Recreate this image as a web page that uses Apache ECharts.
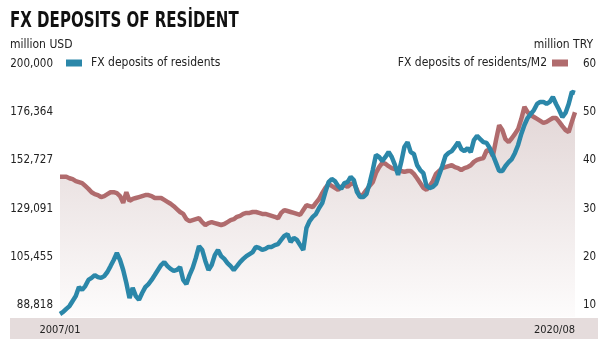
<!DOCTYPE html>
<html>
<head>
<meta charset="utf-8">
<script src="https://cdn.jsdelivr.net/npm/echarts@6/dist/echarts.min.js"></script>
<style>html,body{margin:0;padding:0;background:#fff}#chart{width:608px;height:349px}</style>
</head>
<body>
<div id="chart"></div>
<script>
// ---- data ----
const titleText = 'FX DEPOSITS OF RESİDENT';
const leftUnit = 'million USD';
const rightUnit = 'million TRY';
const depositsName = 'FX deposits of residents';
const ratioName = 'FX deposits of residents/M2';
const startYear = 2007, startMonth = 1, endYear = 2020, endMonth = 8;
const leftTickValues = [81818, 105455, 129091, 152727, 176364, 200000];
const leftTickLabels = ['88,818', '105,455', '129,091', '152,727', '176,364', '200,000'];
const rightTickValues = [10, 20, 30, 40, 50, 60];
const rightTickLabels = ['10', '20', '30', '40', '50', '60'];
// FX deposits of residents (million USD), monthly 2007/01 - 2020/08
const depositValues = [
 77400,78400,79900,81300,83800,86200,90600,89200,91100,94100,
 95100,96500,95500,95100,96000,98000,100900,103900,107300,103900,
 99000,92600,85200,90200,86200,84300,87700,90600,92100,94100,
 96500,99000,101400,102900,100900,99500,98500,99000,100400,94100,
 92100,96500,100000,104900,110700,108800,103400,99000,101400,106300,
 108800,105800,104400,102400,100900,99000,100900,102900,104400,105800,
 106800,107800,110300,109800,108800,109300,110300,110300,111200,111700,
 113700,115700,116600,112700,114700,113700,111200,108800,119600,123000,
 125000,126400,129400,131800,137200,142100,143600,142600,140200,138700,
 141600,142100,144600,143100,137200,134800,134800,136200,141600,148000,
 155400,154400,152400,154400,156800,154400,150500,145600,151900,159300,
 161700,156800,155900,150500,148000,146500,140200,139200,139700,141200,
 145600,150000,154900,156400,157300,159300,161700,158300,157300,158800,
 156800,162700,164700,163200,161700,161300,158800,155400,151500,147500,
 147500,150000,151900,153400,156400,160300,165700,170100,173500,175500,
 177400,180400,181400,181400,180400,181400,183800,180400,177400,174000,
 176000,180400,186300,185800
];
// FX deposits of residents / M2, monthly 2007/01 - 2020/08
const ratioValues = [
 36.6,36.6,36.6,36.3,36.1,35.7,35.5,35.3,34.7,34.1,
 33.4,33.0,32.8,32.4,32.6,33.0,33.4,33.4,33.2,32.6,
 31.2,33.4,31.6,32.0,32.2,32.4,32.6,32.8,32.8,32.6,
 32.2,32.2,32.2,31.8,31.4,31.0,30.5,29.9,29.3,28.9,
 27.8,27.4,27.6,27.8,28.0,27.2,26.6,27.0,27.2,27.0,
 26.8,26.6,26.8,27.2,27.6,27.8,28.3,28.5,28.9,29.1,
 29.1,29.3,29.3,29.1,28.9,28.9,28.7,28.5,28.3,28.0,
 29.1,29.7,29.5,29.3,29.1,28.9,28.7,29.7,30.7,30.5,
 30.3,31.2,32.0,33.2,34.3,35.1,34.7,34.3,33.9,34.5,
 34.9,34.5,35.1,35.3,33.9,32.4,33.0,33.9,34.7,35.5,
 37.4,38.6,39.5,39.3,38.8,38.4,38.2,38.0,37.8,37.6,
 37.8,37.8,37.2,36.3,35.3,34.3,33.9,34.7,35.7,37.2,
 37.8,38.4,38.6,38.8,39.0,38.6,38.4,38.0,38.4,38.6,
 39.0,39.7,40.1,40.3,40.5,42.0,42.2,40.9,44.2,47.3,
 46.3,44.4,43.8,44.6,45.5,46.5,48.6,51.1,50.0,49.4,
 49.0,48.6,48.2,47.8,48.0,48.4,48.8,48.8,48.0,47.1,
 46.3,45.9,48.0,50.0
];

// ---- build categories ----
const months = [];
for (let y = startYear, m = startMonth; y < endYear || (y === endYear && m <= endMonth); ) {
  months.push(y + '/' + (m < 10 ? '0' + m : '' + m));
  m++; if (m > 12) { m = 1; y++; }
}
const lastIdx = months.length - 1;

// ---- layout ----
const FONT = "'Liberation Sans Narrow', 'DejaVu Sans Condensed', sans-serif";
const TXT = '#222';
const BLUE = '#2b87a9';
const RED = '#b06b6d';
const gridTop = 64, gridBottomPx = 317, lowTickPx = 305;
const span = (lowTickPx - gridTop);
const extra = gridBottomPx - lowTickPx;
const lMax = leftTickValues[leftTickValues.length - 1], lMin0 = leftTickValues[0];
const rMax = rightTickValues[rightTickValues.length - 1], rMin0 = rightTickValues[0];
const lMin = lMin0 - extra * (lMax - lMin0) / span;
const rMin = rMin0 - extra * (rMax - rMin0) / span;

function labelFor(vals, labels) {
  return function (v) {
    let best = 0, bd = Infinity;
    vals.forEach((t, i) => { const d = Math.abs(t - v); if (d < bd) { bd = d; best = i; } });
    return labels[best];
  };
}

const chart = echarts.init(document.getElementById('chart'), null, { renderer: 'canvas' });
chart.setOption({
  animation: false,
  backgroundColor: '#fff',
  title: [
    { text: leftUnit, left: 10, top: 39, padding: 0,
      textStyle: { fontFamily: FONT, fontSize: 12, fontWeight: 'normal', color: TXT } },
    { text: rightUnit, right: 15, top: 39, padding: 0,
      textStyle: { fontFamily: FONT, fontSize: 12, fontWeight: 'normal', color: TXT } }
  ],
  legend: [
    { data: [depositsName], left: 66, top: 57, padding: 0, icon: 'rect', itemWidth: 16, itemHeight: 7,
      selectedMode: false, textStyle: { fontFamily: FONT, fontSize: 12, color: TXT, padding: [0, 0, 0, 4] } },
    { data: [ratioName], right: 40, top: 57, padding: 0, icon: 'rect', itemWidth: 16, itemHeight: 7, align: 'right',
      selectedMode: false, textStyle: { fontFamily: FONT, fontSize: 12, color: TXT } }
  ],
  graphic: [
    { type: 'text', x: 10, y: 21, scaleX: 0.76, scaleY: 1, z: 10, silent: true,
      style: { text: titleText, font: "bold 22px 'Liberation Sans Narrow', 'DejaVu Sans Condensed', sans-serif",
        fill: '#111', verticalAlign: 'middle', align: 'left' } },
    { type: 'rect', left: 10, top: 318, z: -10, silent: true,
      shape: { width: 588, height: 21 }, style: { fill: '#e5dcdc' } }
  ],
  grid: { left: 60, right: 33, top: gridTop, bottom: 349 - gridBottomPx, containLabel: false },
  xAxis: {
    type: 'category', data: months, boundaryGap: false,
    axisLine: { show: false }, axisTick: { show: false }, splitLine: { show: false },
    axisLabel: {
      interval: function (i) { return i === 0 || i === lastIdx; },
      showMinLabel: true, showMaxLabel: true, alignMaxLabel: 'right',
      fontFamily: FONT, fontSize: 11, color: TXT, margin: 8
    }
  },
  yAxis: [
    { type: 'value', position: 'left', min: lMin, max: lMax,
      axisLine: { show: false }, axisTick: { show: false }, splitLine: { show: false },
      axisLabel: { customValues: leftTickValues, formatter: labelFor(leftTickValues, leftTickLabels),
        fontFamily: FONT, fontSize: 11.5, color: TXT, margin: 7 } },
    { type: 'value', position: 'right', min: rMin, max: rMax,
      axisLine: { show: false }, axisTick: { show: false }, splitLine: { show: false },
      axisLabel: { customValues: rightTickValues, formatter: labelFor(rightTickValues, rightTickLabels),
        fontFamily: FONT, fontSize: 11.5, color: TXT, margin: 8 } }
  ],
  series: [
    { name: ratioName, type: 'line', yAxisIndex: 1, data: ratioValues, showSymbol: false, symbol: 'none',
      color: RED, lineStyle: { width: 4.5, color: RED }, itemStyle: { color: RED },
      areaStyle: { color: new echarts.graphic.LinearGradient(0, 0, 0, 1, [
        { offset: 0, color: '#d6c5c5' }, { offset: 1, color: '#fcfafa' }]) },
      z: 2 },
    { name: depositsName, type: 'line', yAxisIndex: 0, data: depositValues, showSymbol: false, symbol: 'none',
      color: BLUE, lineStyle: { width: 4.5, color: BLUE }, itemStyle: { color: BLUE }, z: 3 }
  ]
});
</script>
</body>
</html>
